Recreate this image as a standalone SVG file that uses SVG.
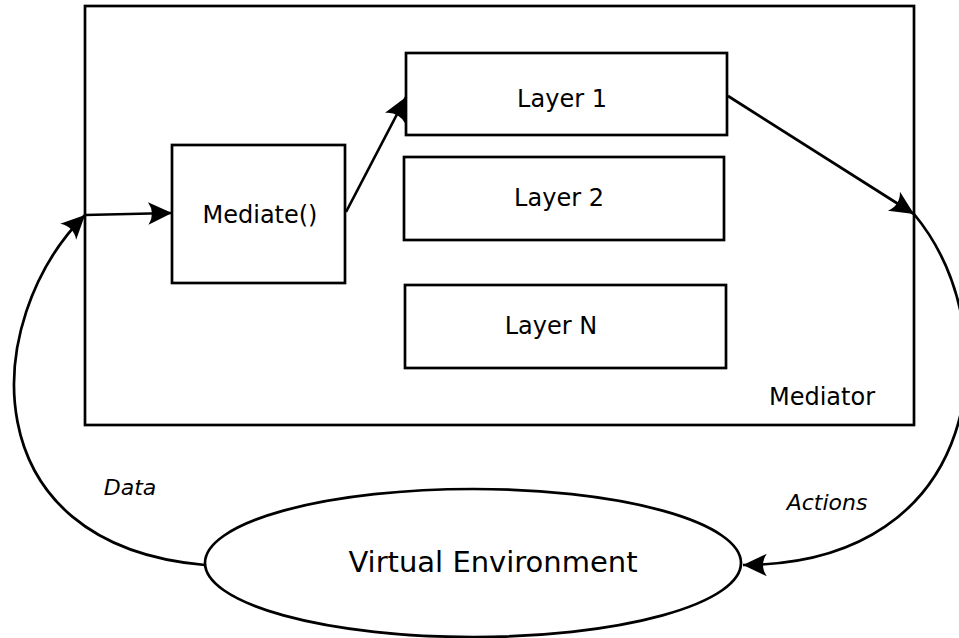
<svg xmlns="http://www.w3.org/2000/svg" width="959" height="638" viewBox="0 0 959 638">
<style>
.box{fill:#fff;stroke:#000;stroke-width:2.7}
.lbl{font-family:"DejaVu Sans",sans-serif;font-size:24px;fill:#000;text-anchor:middle}
.it{font-family:"DejaVu Sans",sans-serif;font-size:22px;font-style:italic;fill:#000;text-anchor:middle}
.con{fill:none;stroke:#000;stroke-width:2.7;marker-end:url(#ah)}
</style>
<defs>
<marker id="ah" markerUnits="userSpaceOnUse" orient="auto" markerWidth="30" markerHeight="30" viewBox="-22 -12 24 24" refX="0" refY="0">
<path d="M0,0 L-19,-9 Q-13,0 -19,9 Z" fill="#000"/>
</marker>
</defs>
<rect width="959" height="638" fill="#fff"/>
<g id="mediator">
<rect class="box" x="85" y="6" width="829" height="419"/>
<text class="lbl" x="822" y="405">Mediator</text>
</g>
<g id="mediate">
<rect class="box" x="172" y="145" width="173" height="138"/>
<text class="lbl" x="260" y="223">Mediate()</text>
</g>
<g id="layer1">
<rect class="box" x="406" y="53" width="321" height="82"/>
<text class="lbl" x="562" y="107">Layer 1</text>
</g>
<g id="layer2">
<rect class="box" x="404" y="157" width="320" height="83"/>
<text class="lbl" x="559" y="206">Layer 2</text>
</g>
<g id="layerN">
<rect class="box" x="405" y="285" width="321" height="83"/>
<text class="lbl" x="551" y="334">Layer N</text>
</g>
<g id="virtual-environment">
<ellipse class="box" cx="473" cy="563" rx="268" ry="74"/>
<text class="lbl" x="493" y="572" style="font-size:29px">Virtual Environment</text>
</g>
<g id="connectors">
<path class="con" d="M205,565 C-30,545 -20,320 85,215"/>
<path class="con" d="M85,215 L172,213"/>
<path class="con" d="M346,212 L406,97"/>
<path class="con" d="M728,96 L914,214"/>
<path class="con" d="M914,214 C1010,330 985,565 743,565"/>
<text class="it" x="130" y="495">Data</text>
<text class="it" x="827" y="510">Actions</text>
</g>
</svg>
